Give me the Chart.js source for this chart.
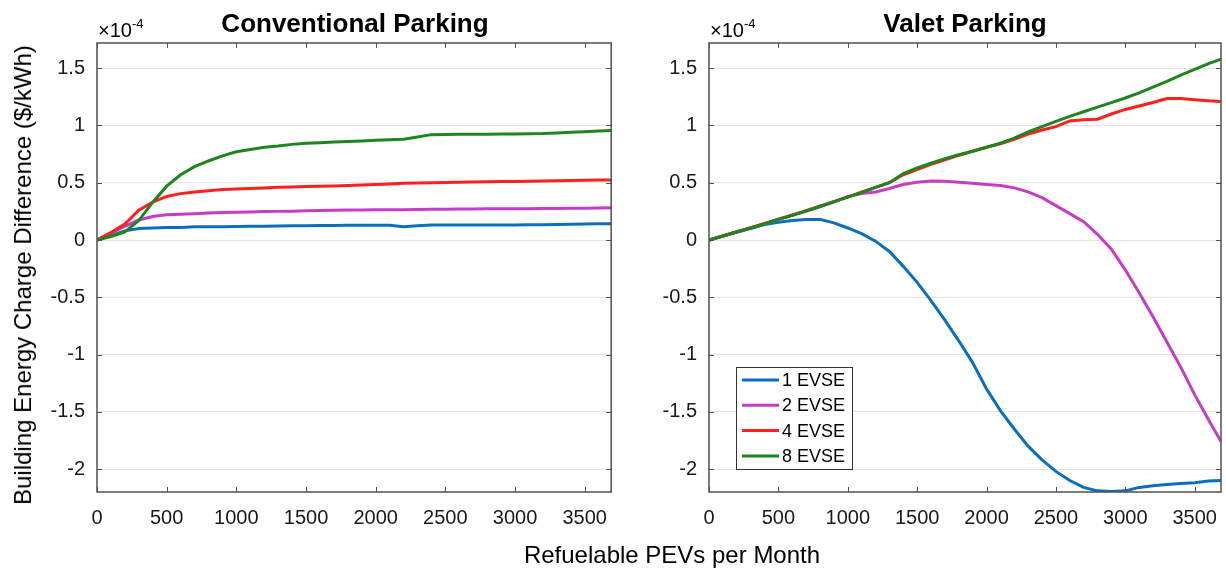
<!DOCTYPE html>
<html>
<head>
<meta charset="utf-8">
<title>Building Energy Charge Difference</title>
<script src="https://cdn.jsdelivr.net/npm/chart.js@4.4.1/dist/chart.umd.min.js"></script>
<style>
  body{margin:0;background:#fff;font-family:'Liberation Sans',Arial,sans-serif;color:#000}
  #fig{position:relative;width:1226px;height:569px;overflow:hidden;background:#fff}
  #fig canvas{position:absolute;top:0}
  .txt{position:absolute;white-space:nowrap;line-height:1}
  .ptitle{font-weight:bold;font-size:26px;top:10px;transform:translateX(-50%)}
  .expo{font-size:20px;top:20px}
  .expo span{font-size:13px;position:relative;top:-9px}
  #ytitle{font-size:24px;left:23px;top:275px;transform:translate(-50%,-50%) rotate(-90deg)}
  #xtitle{font-size:24px;left:672px;top:543px;transform:translateX(-50%)}
</style>
</head>
<body>
<div id="fig">
  <canvas id="conv" width="613" height="569" style="left:0"></canvas>
  <canvas id="valet" width="613" height="569" style="left:613px"></canvas>
  <div class="txt ptitle" style="left:355px">Conventional Parking</div>
  <div class="txt ptitle" style="left:965px">Valet Parking</div>
  <div class="txt expo" style="left:98px">&times;10<span>-4</span></div>
  <div class="txt expo" style="left:710px">&times;10<span>-4</span></div>
  <div class="txt" id="ytitle">Building Energy Charge Difference ($/kWh)</div>
  <div class="txt" id="xtitle">Refuelable PEVs per Month</div>
</div>
<script>
// x samples (PEVs per month) and axis ticks
const pevs = [0,100,200,300,400,500,600,700,800,900,1000,1100,1200,1300,1400,1500,1600,1700,1800,1900,
  2000,2100,2200,2300,2400,2500,2600,2700,2800,2900,3000,3100,3200,3300,3400,3500,3600,3690];
const xTicks = [0,500,1000,1500,2000,2500,3000,3500];
const yTicks = [-2,-1.5,-1,-0.5,0,0.5,1,1.5];

// values in units of 1e-4 $/kWh
const convEvse1 = [0,0.04,0.08,0.1,0.105,0.11,0.11,0.115,0.115,0.115,0.118,0.12,0.12,0.122,0.124,0.125,0.126,0.127,0.128,0.128,
  0.129,0.128,0.115,0.125,0.13,0.13,0.131,0.132,0.132,0.132,0.132,0.133,0.134,0.135,0.137,0.14,0.142,0.143];
const convEvse2 = [0,0.06,0.12,0.175,0.205,0.22,0.225,0.23,0.235,0.24,0.243,0.245,0.248,0.25,0.252,0.255,0.258,0.26,0.262,0.262,
  0.264,0.265,0.265,0.266,0.268,0.268,0.27,0.27,0.272,0.272,0.273,0.274,0.275,0.276,0.277,0.278,0.28,0.282];
const convEvse4 = [0,0.065,0.14,0.26,0.33,0.38,0.405,0.42,0.43,0.44,0.445,0.45,0.455,0.46,0.463,0.467,0.47,0.472,0.475,0.48,
  0.485,0.49,0.495,0.498,0.5,0.502,0.505,0.507,0.508,0.51,0.51,0.512,0.515,0.518,0.52,0.522,0.525,0.525];
const convEvse8 = [0,0.03,0.07,0.17,0.33,0.47,0.57,0.64,0.69,0.735,0.77,0.79,0.81,0.82,0.835,0.845,0.85,0.855,0.86,0.865,
  0.87,0.875,0.88,0.9,0.92,0.922,0.923,0.923,0.924,0.925,0.926,0.928,0.93,0.935,0.94,0.945,0.952,0.955];

const valetEvse1 = [0,0.035,0.07,0.1,0.135,0.155,0.17,0.18,0.18,0.15,0.105,0.055,-0.01,-0.1,-0.23,-0.37,-0.53,-0.7,-0.88,-1.07,
  -1.3,-1.49,-1.65,-1.8,-1.92,-2.02,-2.1,-2.16,-2.19,-2.195,-2.19,-2.16,-2.145,-2.135,-2.125,-2.12,-2.105,-2.1];
const valetEvse2 = [0,0.035,0.07,0.105,0.14,0.18,0.215,0.25,0.29,0.33,0.38,0.405,0.42,0.45,0.485,0.505,0.515,0.513,0.505,0.495,
  0.485,0.475,0.455,0.42,0.37,0.3,0.23,0.16,0.05,-0.08,-0.26,-0.46,-0.67,-0.89,-1.11,-1.35,-1.57,-1.76];
const valetEvse4 = [0,0.035,0.072,0.108,0.145,0.182,0.218,0.256,0.295,0.335,0.375,0.418,0.46,0.5,0.57,0.615,0.66,0.7,0.74,0.775,
  0.81,0.84,0.88,0.925,0.96,0.99,1.04,1.05,1.055,1.1,1.14,1.17,1.2,1.235,1.235,1.225,1.215,1.21];
const valetEvse8 = [0,0.035,0.07,0.105,0.14,0.18,0.215,0.255,0.295,0.335,0.375,0.415,0.46,0.5,0.58,0.63,0.67,0.71,0.745,0.775,
  0.81,0.845,0.89,0.945,0.99,1.035,1.08,1.12,1.16,1.2,1.24,1.285,1.335,1.385,1.44,1.49,1.54,1.58];

const seriesLabels = ['1 EVSE','2 EVSE','4 EVSE','8 EVSE'];
const seriesColors = ['#0b6fc0','#c63cc6','#ff1f1f','#1d861d'];

Chart.defaults.font.family = "'Liberation Sans', Arial, sans-serif";

function makeDatasets(series){
  return series.map((vals,i)=>({
    label: seriesLabels[i],
    data: vals.map((v,k)=>({x: pevs[k], y: v})),
    borderColor: seriesColors[i],
    borderWidth: 3,
    pointRadius: 0,
    tension: 0,
    order: series.length - 1 - i   // later series drawn on top
  }));
}

// axes box with inward tick marks on all four sides
const frame = {
  id: 'frame',
  afterDatasetsDraw(chart){
    const {ctx, chartArea:a, scales:{x, y}} = chart;
    ctx.save();
    ctx.strokeStyle = '#505050';
    ctx.lineWidth = 1;
    ctx.beginPath();
    xTicks.forEach(v=>{
      const px = Math.round(x.getPixelForValue(v)) + 0.5;
      ctx.moveTo(px, a.bottom); ctx.lineTo(px, a.bottom - 5);
      ctx.moveTo(px, a.top); ctx.lineTo(px, a.top + 5);
    });
    yTicks.forEach(v=>{
      const py = Math.round(y.getPixelForValue(v)) + 0.5;
      ctx.moveTo(a.left, py); ctx.lineTo(a.left + 5, py);
      ctx.moveTo(a.right, py); ctx.lineTo(a.right - 5, py);
    });
    ctx.stroke();
    ctx.lineWidth = 1.5;
    ctx.strokeRect(a.left, a.top, a.right - a.left, a.bottom - a.top);
    ctx.restore();
  }
};

// boxed legend in the lower left of the valet axes
const legendBox = {
  id: 'legendBox',
  afterDraw(chart, args, opts){
    const ctx = chart.ctx;
    const left = opts.left, top = opts.top, w = 116, h = 102;
    ctx.save();
    ctx.fillStyle = '#fff';
    ctx.fillRect(left, top, w, h);
    ctx.strokeStyle = '#333';
    ctx.lineWidth = 1;
    ctx.strokeRect(left + 0.5, top + 0.5, w, h);
    ctx.font = "18px 'Liberation Sans', Arial, sans-serif";
    ctx.textBaseline = 'middle';
    ctx.fillStyle = '#000';
    chart.data.datasets.forEach((ds,i)=>{
      const yy = top + 13 + i * 25.3;
      ctx.strokeStyle = ds.borderColor;
      ctx.lineWidth = 3;
      ctx.beginPath();
      ctx.moveTo(left + 6, yy); ctx.lineTo(left + 43, yy);
      ctx.stroke();
      ctx.fillText(ds.label, left + 46, yy + 1);
    });
    ctx.restore();
  }
};

const plainLabel = v => String(v);

function makeChart(id, series, axisWidth, padRight, withLegend){
  return new Chart(document.getElementById(id), {
    type: 'line',
    data: {datasets: makeDatasets(series)},
    options: {
      responsive: false,
      animation: false,
      layout: {padding: {top: 43, right: padRight, left: 0, bottom: 0}},
      plugins: {
        legend: {display: false},
        tooltip: {enabled: false},
        legendBox: withLegend ? {left: 123, top: 367} : false
      },
      scales: {
        x: {
          type: 'linear', min: 0, max: 3690,
          afterBuildTicks: s => { s.ticks = xTicks.map(v=>({value: v})); },
          afterFit: s => { s.height = 77; },
          ticks: {color: '#1a1a1a', font: {size: 20}, padding: 6, maxRotation: 0, callback: plainLabel},
          grid: {display: false},
          border: {display: false}
        },
        y: {
          min: -2.2, max: 1.72,
          afterBuildTicks: s => { s.ticks = yTicks.map(v=>({value: v})); },
          afterFit: s => { s.width = axisWidth; },
          ticks: {color: '#1a1a1a', font: {size: 20}, padding: 12, callback: plainLabel},
          grid: {color: '#e3e3e3', lineWidth: 1, drawTicks: false},
          border: {display: false}
        }
      }
    },
    plugins: withLegend ? [frame, legendBox] : [frame]
  });
}

makeChart('conv', [convEvse1, convEvse2, convEvse4, convEvse8], 97, 1, false);
makeChart('valet', [valetEvse1, valetEvse2, valetEvse4, valetEvse8], 96, 5, true);
</script>
</body>
</html>
